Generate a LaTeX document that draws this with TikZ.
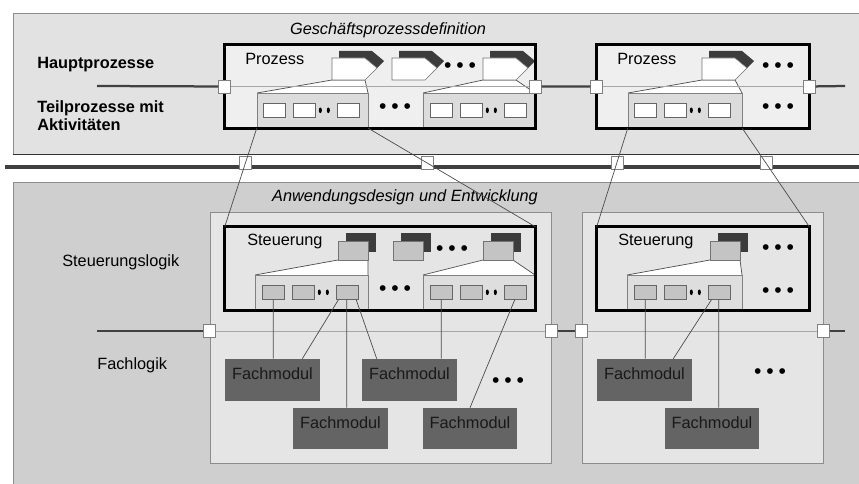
\documentclass[tikz,border=0pt]{standalone}
\usepackage{fontspec}
\setmainfont{Liberation Sans}
\usetikzlibrary{positioning,fit,calc}

\definecolor{topbg}{HTML}{E2E2E2}
\definecolor{procbg}{HTML}{EFEFEF}
\definecolor{subbg}{HTML}{DCDCDC}
\definecolor{lowbg}{HTML}{CFCFCF}
\definecolor{innerbg}{HTML}{E5E5E5}
\definecolor{actgray}{HTML}{C4C4C4}
\definecolor{modgray}{HTML}{646464}
\definecolor{darkshade}{HTML}{3C3C3C}

\newcommand{\dfont}{\fontsize{11.6}{13}\selectfont}
\newcommand{\pdots}{\textbullet\hspace{3.5pt}\textbullet\hspace{3.5pt}\textbullet}

\begin{document}
\begin{tikzpicture}[x=0.025cm, y=-0.025cm, font=\dfont,
    area/.style={draw=black!45, inner sep=0pt},
    probox/.style={fill=procbg, inner sep=0pt},
    subbox/.style={draw=black!50, fill=subbg, inner sep=0pt},
    act/.style={draw=black!60, fill=white, minimum width=0.55cm, minimum height=0.35cm, inner sep=0pt},
    actg/.style={act, fill=actgray},
    port/.style={draw=black!50, fill=white, minimum width=0.3cm, minimum height=0.33cm, inner sep=0pt},
    modul/.style={fill=modgray, text=black!90, inner sep=0pt},
    bus/.style={black!75, line width=1.6pt},
    faint/.style={black!35, line width=0.6pt},
    link/.style={black!70, line width=0.5pt},
    boxframe/.style={line width=1.8pt},
    dots/.style={inner sep=0pt, font=\fontsize{15}{15}\selectfont},
    lbl/.style={inner sep=0pt},
    title/.style={lbl, font=\dfont\itshape},
    pentbody/.style={draw=black!55, fill=white}
  ]
  \clip (0,0) rectangle (859,484);

  % Geschaeftsprozessdefinition
  \node[area, fill=topbg, fit={(13,13) (880,154)}] (gpd) {};
  \draw[black!80, line width=0.9pt] (gpd.south west) -- (gpd.south east);
  \node[title, anchor=base] at (388,35) {Geschäftsprozessdefinition};
  \node[lbl, font=\dfont\bfseries, anchor=base west] at (37,69) {Hauptprozesse};
  \node[lbl, font=\dfont\bfseries, anchor=north west, align=left] at (37,100) {Teilprozesse mit\\Aktivitäten};

  \node[probox, fit={(225,45) (535,128)}] (pbox1) {};
  \node[probox, fit={(597,45) (809,128)}] (pbox2) {};
  \node[lbl, anchor=base west] at (245,65) {Prozess};
  \node[lbl, anchor=base west] at (617,65) {Prozess};

  \foreach \l/\a/\r in {257/332/368, 423/483/535, 628/702/742}
    \draw[link, fill=white] (\l,93) -- (\a,80) -- (\a+33,80) -- (\r,93);
  \node[subbox, fit={(257,93) (368,128)}] (tsub1) {};
  \node[subbox, fit={(423,93) (535,128)}] (tsub2) {};
  \node[subbox, fit={(628,93) (742,128)}] (tsub3) {};

  \foreach \x in {332,392,483,702} {
    \fill[darkshade] (\x+7,51) -- ++(33,0) -- ++(12,10) -- ++(-12,12) -- ++(-33,0) -- cycle;
    \draw[pentbody] (\x,58) -- ++(33,0) -- ++(12,10) -- ++(-12,12) -- ++(-33,0) -- cycle;
  }

  \foreach \g/\x in {1/263, 2/430, 3/634} {
    \node[act, anchor=north west] (t\g1) at (\x,103) {};
    \node[act, right=0.18cm of t\g1] (t\g2) {};
    \node[act, right=0.53cm of t\g2] (t\g3) {};
    \fill ($(t\g2.east)+(5,0)$) ellipse (1.1pt and 2pt) ($(t\g2.east)+(13,0)$) ellipse (1.1pt and 2pt);
  }
  \node[dots] at (460,68) {\pdots};
  \node[dots] at (395,109) {\pdots};
  \node[dots] at (778,68) {\pdots};
  \node[dots] at (778,109) {\pdots};

  \draw[boxframe] (pbox1.north west) rectangle (pbox1.south east);
  \draw[boxframe] (pbox2.north west) rectangle (pbox2.south east);

  \coordinate (hpL) at (97,86);
  \coordinate (hpR) at (845,86);
  \node[port] (pp1) at (pbox1.west) {};
  \node[port] (pp2) at (pbox1.east) {};
  \node[port] (pp3) at (pbox2.west) {};
  \node[port] (pp4) at (pbox2.east) {};
  \draw[bus] (hpL) -- (pp1) (pp2) -- (pp3) (pp4) -- (hpR);
  \draw[faint] (pp1) -- (pp2) (pp3) -- (pp4);

  % Anwendungsdesign und Entwicklung
  \node[area, fill=lowbg, fit={(13,182) (880,500)}] (adw) {};
  \node[title, anchor=base] at (405,202) {Anwendungsdesign und Entwicklung};
  \node[lbl, anchor=base west] at (62,267) {Steuerungslogik};
  \node[lbl, anchor=base west] at (97,369) {Fachlogik};

  \node[area, fill=innerbg, fit={(210,212) (551,463)}] (ipan1) {};
  \node[area, fill=innerbg, fit={(582,212) (823,463)}] (ipan2) {};
  \node[probox, fill=innerbg, fit={(225,227) (535,310)}] (sbox1) {};
  \node[probox, fill=innerbg, fit={(597,227) (809,310)}] (sbox2) {};
  \node[lbl, anchor=base west] at (247,246) {Steuerung};
  \node[lbl, anchor=base west] at (618,246) {Steuerung};

  \foreach \l/\a/\r in {255/338/368, 423/483/535, 627/710/742}
    \draw[link, fill=white] (\l,275) -- (\a,260) -- (\a+30,260) -- (\r,275);
  \node[subbox, fill=innerbg!97!black, fit={(255,275) (368,310)}] (ssub1) {};
  \node[subbox, fill=innerbg!97!black, fit={(423,275) (535,310)}] (ssub2) {};
  \node[subbox, fill=innerbg!97!black, fit={(627,275) (742,310)}] (ssub3) {};

  \foreach \x in {338,393,483,710} {
    \fill[darkshade] (\x+8,233) rectangle ++(30,19);
    \draw[black!55, fill=actgray] (\x,241) rectangle ++(30,19);
  }

  \foreach \g/\x in {1/262, 2/430, 3/634} {
    \node[actg, anchor=north west] (s\g1) at (\x,285) {};
    \node[actg, right=0.18cm of s\g1] (s\g2) {};
    \node[actg, right=0.53cm of s\g2] (s\g3) {};
    \fill ($(s\g2.east)+(5,0)$) ellipse (1.1pt and 2pt) ($(s\g2.east)+(13,0)$) ellipse (1.1pt and 2pt);
  }
  \node[dots] at (452,251) {\pdots};
  \node[dots] at (395,291) {\pdots};
  \node[dots] at (778,250) {\pdots};
  \node[dots] at (778,293) {\pdots};

  \draw[boxframe] (sbox1.north west) rectangle (sbox1.south east);
  \draw[boxframe] (sbox2.north west) rectangle (sbox2.south east);

  \coordinate (flL) at (97,331);
  \coordinate (flR) at (845,331);
  \node[port] (fp1) at (ipan1.west |- flL) {};
  \node[port] (fp2) at (ipan1.east |- flL) {};
  \node[port] (fp3) at (ipan2.west |- flL) {};
  \node[port] (fp4) at (ipan2.east |- flL) {};
  \draw[bus] (flL) -- (fp1) (fp2) -- (fp3) (fp4) -- (flR);
  \draw[faint] (fp1) -- (fp2) (fp3) -- (fp4);

  \node[modul, fit={(225,359) (320,401)}] (fm1) {Fachmodul};
  \node[modul, fit={(293,408) (388,449)}] (fm2) {Fachmodul};
  \node[modul, fit={(362,359) (457,401)}] (fm3) {Fachmodul};
  \node[modul, fit={(423,408) (517,449)}] (fm4) {Fachmodul};
  \node[modul, fit={(597,359) (692,401)}] (fm5) {Fachmodul};
  \node[modul, fit={(665,408) (759,449)}] (fm6) {Fachmodul};
  \node[dots] at (508,383) {\pdots};
  \node[dots] at (770,374) {\pdots};

  \draw[link] (s11.south) -- (s11.south |- fm1.north)
    ($(s13.south west)+(3,0)$) -- ($(fm1.north east)+(-18,0)$)
    (s13.south) -- (s13.south |- fm2.north)
    ($(s13.south east)+(-2,0)$) -- ($(fm3.north west)+(15,0)$)
    (s21.south) -- (s21.south |- fm3.north)
    (s23.south) -- (fm4.north)
    (s31.south) -- (s31.south |- fm5.north)
    ($(s33.south west)+(4,0)$) -- ($(fm5.north east)+(-19,0)$)
    (s33.south) -- (s33.south |- fm6.north);

  % Verbindung der Ebenen
  \coordinate (busL) at (5,167);
  \coordinate (busR) at (859,167);
  \draw[bus, line width=2.4pt] (busL) -- (busR);
  \coordinate (portL) at (0,163);
  \coordinate (portR) at (859,163);
  \node[port] (bp1) at (intersection of tsub1.south west--sbox1.north west and portL--portR) {};
  \node[port] (bp2) at (intersection of tsub1.south east--sbox1.north east and portL--portR) {};
  \node[port] (bp3) at (intersection of tsub3.south west--sbox2.north west and portL--portR) {};
  \node[port] (bp4) at (intersection of tsub3.south east--sbox2.north east and portL--portR) {};
  \draw[link] (tsub1.south west) -- (sbox1.north west)
    (tsub1.south east) -- (sbox1.north east)
    (tsub3.south west) -- (sbox2.north west)
    (tsub3.south east) -- (sbox2.north east);
\end{tikzpicture}
\end{document}
